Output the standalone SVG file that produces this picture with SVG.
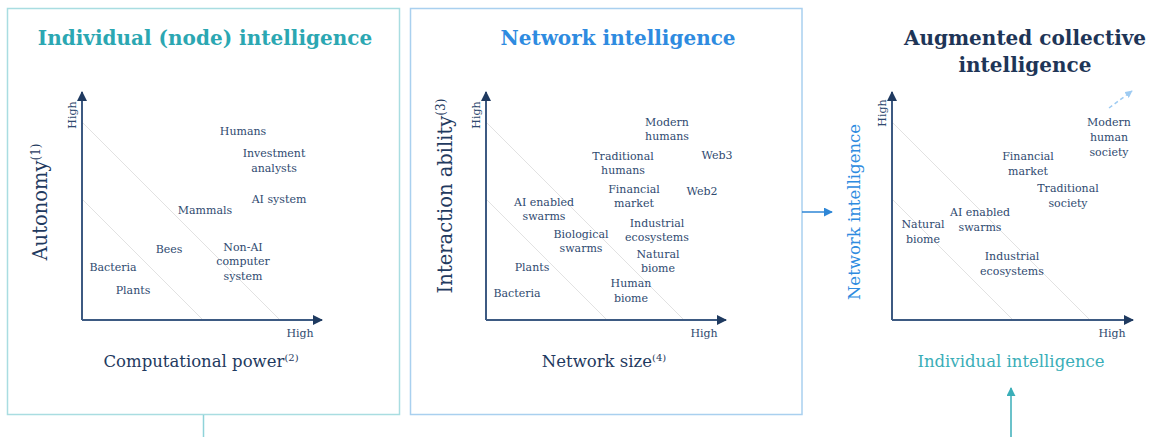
<svg xmlns="http://www.w3.org/2000/svg" width="1151" height="437" viewBox="0 0 1151 437">
<style>
text{font-family:"DejaVu Serif","Liberation Serif",serif}
.lbl{font-size:11px;fill:#2f4a70;text-anchor:middle}
.hi{font-size:11px;fill:#2f4a70;text-anchor:middle}
.ax{font-size:16.5px;fill:#1f3a60;text-anchor:middle}
.axv{font-size:19.5px;fill:#1f3a60;text-anchor:middle}
.sup{font-size:10px}
.supv{font-size:12px}
.title{font-size:20px;font-weight:bold;text-anchor:middle}
.axis{stroke:#3d5a82;stroke-width:2;fill:none}
.diag{stroke:#e2e2e2;stroke-width:1;fill:none}
</style>
<defs>
<marker id="navy" viewBox="0 0 10 10" refX="9" refY="5" markerWidth="5" markerHeight="5" orient="auto"><path d="M0,0L10,5L0,10z" fill="#1f3a60"/></marker>
<marker id="blue" viewBox="0 0 10 10" refX="9" refY="5" markerWidth="6" markerHeight="6" orient="auto"><path d="M0,0L10,5L0,10z" fill="#2e86d6"/></marker>
<marker id="teal" viewBox="0 0 10 10" refX="9" refY="5" markerWidth="6" markerHeight="6" orient="auto"><path d="M0,0L10,5L0,10z" fill="#3aaeb8"/></marker>
<marker id="lblue" viewBox="0 0 10 10" refX="9" refY="5" markerWidth="5" markerHeight="5" orient="auto"><path d="M0,0L10,5L0,10z" fill="#9ecbf2"/></marker>
</defs>

<g id="panel-individual">
<rect x="7.5" y="8.5" width="392" height="406" fill="#fff" stroke="#a9dde1" stroke-width="1.5"/>
<text class="title" x="205" y="45" fill="#2ba7b2">Individual (node) intelligence</text>
<line class="diag" x1="83" y1="123" x2="280" y2="320"/>
<line class="diag" x1="83" y1="200" x2="203" y2="320"/>
<path class="axis" d="M82,320V92" marker-end="url(#navy)"/>
<path class="axis" d="M82,320H322" marker-end="url(#navy)"/>
<text class="hi" transform="translate(76,115) rotate(-90)">High</text>
<text class="hi" x="300" y="337">High</text>
<text class="axv" transform="translate(47,202) rotate(-90)">Autonomy<tspan class="supv" dy="-7">(1)</tspan></text>
<text class="ax" x="201" y="367">Computational power<tspan class="sup" dy="-6">(2)</tspan></text>
<text class="lbl" x="243" y="135">Humans</text>
<text class="lbl" x="274" y="157">Investment</text>
<text class="lbl" x="274" y="172">analysts</text>
<text class="lbl" x="279" y="203">AI system</text>
<text class="lbl" x="205" y="214">Mammals</text>
<text class="lbl" x="169" y="253">Bees</text>
<text class="lbl" x="243" y="251">Non-AI</text>
<text class="lbl" x="243" y="265">computer</text>
<text class="lbl" x="243" y="280">system</text>
<text class="lbl" x="113" y="271">Bacteria</text>
<text class="lbl" x="133" y="294">Plants</text>
</g>

<g id="panel-network">
<rect x="410.5" y="8.5" width="391.5" height="406" fill="#fff" stroke="#a9d0ef" stroke-width="1.5"/>
<text class="title" x="618" y="45" fill="#2e8be0">Network intelligence</text>
<line class="diag" x1="487" y1="123" x2="684" y2="320"/>
<line class="diag" x1="487" y1="200" x2="607" y2="320"/>
<path class="axis" d="M486,320V92" marker-end="url(#navy)"/>
<path class="axis" d="M486,320H726" marker-end="url(#navy)"/>
<text class="hi" transform="translate(480,115) rotate(-90)">High</text>
<text class="hi" x="704" y="337">High</text>
<text class="axv" transform="translate(452,196) rotate(-90)">Interaction ability<tspan class="supv" dy="-7">(3)</tspan></text>
<text class="ax" x="604" y="367">Network size<tspan class="sup" dy="-6">(4)</tspan></text>
<text class="lbl" x="667" y="126">Modern</text>
<text class="lbl" x="667" y="140">humans</text>
<text class="lbl" x="623" y="160">Traditional</text>
<text class="lbl" x="623" y="174">humans</text>
<text class="lbl" x="717" y="159">Web3</text>
<text class="lbl" x="634" y="193">Financial</text>
<text class="lbl" x="634" y="207">market</text>
<text class="lbl" x="702" y="195">Web2</text>
<text class="lbl" x="544" y="206">AI enabled</text>
<text class="lbl" x="544" y="220">swarms</text>
<text class="lbl" x="657" y="227">Industrial</text>
<text class="lbl" x="657" y="241">ecosystems</text>
<text class="lbl" x="581" y="238">Biological</text>
<text class="lbl" x="581" y="252">swarms</text>
<text class="lbl" x="658" y="258">Natural</text>
<text class="lbl" x="658" y="272">biome</text>
<text class="lbl" x="532" y="271">Plants</text>
<text class="lbl" x="631" y="287">Human</text>
<text class="lbl" x="631" y="302">biome</text>
<text class="lbl" x="517" y="297">Bacteria</text>
</g>

<g id="panel-augmented">
<text class="title" x="1025" y="45" fill="#1e3557">Augmented collective</text>
<text class="title" x="1025" y="72" fill="#1e3557">intelligence</text>
<line class="diag" x1="893" y1="123" x2="1090" y2="320"/>
<line class="diag" x1="893" y1="200" x2="1013" y2="320"/>
<path class="axis" d="M892,320V92" marker-end="url(#navy)"/>
<path class="axis" d="M892,320H1133" marker-end="url(#navy)"/>
<text class="hi" transform="translate(886,113) rotate(-90)">High</text>
<text class="hi" x="1112" y="337">High</text>
<text class="ax" transform="translate(860,212) rotate(-90)" style="fill:#2e8be0">Network intelligence</text>
<text class="ax" x="1011" y="367" style="fill:#3aaeb8">Individual intelligence</text>
<path d="M1109,108L1132,91" stroke="#9ecbf2" stroke-width="1.5" stroke-dasharray="4,3" fill="none" marker-end="url(#lblue)"/>
<text class="lbl" x="1109" y="126">Modern</text>
<text class="lbl" x="1109" y="141">human</text>
<text class="lbl" x="1109" y="156">society</text>
<text class="lbl" x="1028" y="160">Financial</text>
<text class="lbl" x="1028" y="175">market</text>
<text class="lbl" x="1068" y="192">Traditional</text>
<text class="lbl" x="1068" y="207">society</text>
<text class="lbl" x="980" y="216">AI enabled</text>
<text class="lbl" x="980" y="231">swarms</text>
<text class="lbl" x="923" y="228">Natural</text>
<text class="lbl" x="923" y="243">biome</text>
<text class="lbl" x="1012" y="260">Industrial</text>
<text class="lbl" x="1012" y="275">ecosystems</text>
</g>

<g id="connectors">
<line x1="203.5" y1="415" x2="203.5" y2="437" stroke="#8fd3d9" stroke-width="1.5"/>
<path d="M802,212H832" stroke="#2e86d6" stroke-width="1.5" fill="none" marker-end="url(#blue)"/>
<path d="M1011,437V388" stroke="#3aaeb8" stroke-width="1.5" fill="none" marker-end="url(#teal)"/>
</g>
</svg>
